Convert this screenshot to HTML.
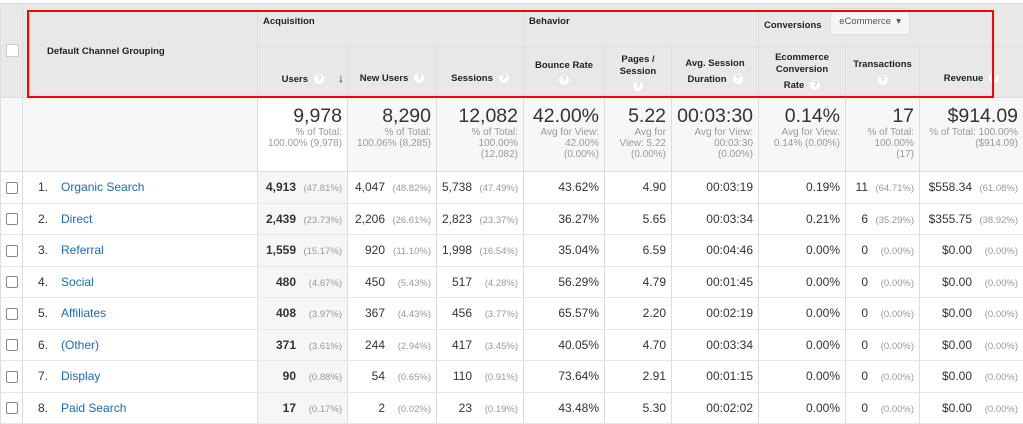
<!DOCTYPE html>
<html><head><meta charset="utf-8"><style>
body{margin:0;width:1023px;height:407px;overflow:hidden;background:#fff;font-family:"Liberation Sans",Arial,sans-serif;color:#222}
table{position:absolute;left:0;top:3px;border-collapse:collapse;table-layout:fixed;width:1023px}
td,th{border:1px solid #ddd;padding:0;overflow:hidden;white-space:nowrap}
th{background:#e8e8e8;font-size:9.5px;font-weight:bold;color:#222}
th>div,td>div{overflow:hidden;box-sizing:border-box}
.g th>div{height:42px;text-align:left;padding:12px 5px 0}
.s th>div{height:50px;display:flex;flex-direction:column;justify-content:center;align-items:center;line-height:12px;text-align:center;padding:0 3px}
.s th>div.lo{padding-top:14px}
.q{display:inline-block;width:10px;height:10px;border-radius:50%;background:#fff;color:#bbb;font-size:8px;line-height:10px;text-align:center;font-weight:normal;vertical-align:middle;margin-left:6px}
.tot td{background:#f7f7f7;vertical-align:top}
.tot td>div{height:73px;text-align:right;font-size:10px;color:#999;line-height:11px;padding:7px 5px 0;white-space:normal}
.tot b{display:block;font-weight:normal;font-size:19.5px;color:#333;line-height:22px;margin-bottom:0}
.r td{font-size:12px;text-align:right;color:#333;border-top:1px solid #e8e8e8;border-bottom:1px solid #e8e8e8}
.r td>div{height:30.5px;line-height:30.5px;padding:0 5px}
.r td.u{background:#f6f6f6}
.p{display:inline-block;color:#999;font-size:9.5px;width:46px;text-align:right}
.r td.n>div{text-align:left;padding-left:15px}
.n a{color:#1a6bb5;text-decoration:none;margin-left:13px}
.cb{display:inline-block;width:10px;height:10px;border:1px solid #888;border-radius:2px;background:#fff;vertical-align:middle}
.red{position:absolute;left:27px;top:10px;width:963px;height:84px;border:2px solid #f00;}
.sel{display:inline-block;margin-left:6px;background:#f5f5f5;border:1px solid #ddd;border-radius:2px;font-weight:normal;color:#555;padding:7px 8px;font-size:9.5px;margin-top:-8px;vertical-align:middle}
</style></head><body>
<table>
<colgroup><col style="width:22px"><col style="width:235px"><col style="width:90px"><col style="width:89px"><col style="width:87px"><col style="width:81px"><col style="width:67px"><col style="width:87px"><col style="width:87px"><col style="width:74px"><col style="width:104px"></colgroup>
<tr class="g"><th rowspan="2"><div style="height:93px;padding:40px 0 0 5px"><span class="cb" style="border-color:#ccc;border-radius:0;width:11px;height:11px"></span></div></th><th rowspan="2"><div style="height:93px;padding:42px 0 0 24px;text-align:left">Default Channel Grouping</div></th><th colspan="3"><div>Acquisition</div></th><th colspan="3"><div>Behavior</div></th><th colspan="3"><div>Conversions <span class="sel">eCommerce &nbsp;&#9662;</span></div></th></tr>
<tr class="s"><th><div class="lo" style="align-items:flex-end"><span>Users<span class="q">?</span><span style="margin-left:14px;font-size:12px">&#8595;</span></span></div></th><th><div class="lo"><span>New Users<span class="q">?</span></span></div></th><th><div class="lo"><span>Sessions<span class="q">?</span></span></div></th><th><div><span>Bounce Rate</span><span class="q" style="margin:3px 0 0">?</span></div></th><th><div><span>Pages /</span><span>Session</span><span class="q" style="margin:3px 0 0">?</span></div></th><th><div><span>Avg. Session</span><span style="margin-top:4px">Duration<span class="q">?</span></span></div></th><th><div><span>Ecommerce</span><span>Conversion</span><span style="margin-top:4px">Rate<span class="q">?</span></span></div></th><th><div><span>Transactions</span><span class="q" style="margin:4px 0 0">?</span></div></th><th><div class="lo"><span>Revenue<span class="q">?</span></span></div></th></tr>
<tr class="tot"><td><div></div></td><td><div></div></td><td style="background:#fff"><div><b>9,978</b>% of Total:<br>100.00% (9,978)</div></td><td><div><b>8,290</b>% of Total:<br>100.06% (8,285)</div></td><td><div><b>12,082</b>% of Total:<br>100.00%<br>(12,082)</div></td><td><div><b>42.00%</b>Avg for View:<br>42.00%<br>(0.00%)</div></td><td><div><b>5.22</b>Avg for<br>View: 5.22<br>(0.00%)</div></td><td><div><b>00:03:30</b>Avg for View:<br>00:03:30<br>(0.00%)</div></td><td><div><b>0.14%</b>Avg for View:<br>0.14% (0.00%)</div></td><td><div><b>17</b>% of Total:<br>100.00%<br>(17)</div></td><td><div><b>$914.09</b>% of Total: 100.00%<br>($914.09)</div></td></tr>
<tr class="r"><td><div><span class="cb"></span></div></td><td class="n"><div>1.<a>Organic Search</a></div></td><td class="u"><div><b>4,913</b><span class="p">(47.81%)</span></div></td><td><div>4,047<span class="p">(48.82%)</span></div></td><td><div>5,738<span class="p">(47.49%)</span></div></td><td><div>43.62%</div></td><td><div>4.90</div></td><td><div>00:03:19</div></td><td><div>0.19%</div></td><td><div>11<span class="p">(64.71%)</span></div></td><td><div>$558.34<span class="p">(61.08%)</span></div></td></tr>
<tr class="r"><td><div><span class="cb"></span></div></td><td class="n"><div>2.<a>Direct</a></div></td><td class="u"><div><b>2,439</b><span class="p">(23.73%)</span></div></td><td><div>2,206<span class="p">(26.61%)</span></div></td><td><div>2,823<span class="p">(23.37%)</span></div></td><td><div>36.27%</div></td><td><div>5.65</div></td><td><div>00:03:34</div></td><td><div>0.21%</div></td><td><div>6<span class="p">(35.29%)</span></div></td><td><div>$355.75<span class="p">(38.92%)</span></div></td></tr>
<tr class="r"><td><div><span class="cb"></span></div></td><td class="n"><div>3.<a>Referral</a></div></td><td class="u"><div><b>1,559</b><span class="p">(15.17%)</span></div></td><td><div>920<span class="p">(11.10%)</span></div></td><td><div>1,998<span class="p">(16.54%)</span></div></td><td><div>35.04%</div></td><td><div>6.59</div></td><td><div>00:04:46</div></td><td><div>0.00%</div></td><td><div>0<span class="p">(0.00%)</span></div></td><td><div>$0.00<span class="p">(0.00%)</span></div></td></tr>
<tr class="r"><td><div><span class="cb"></span></div></td><td class="n"><div>4.<a>Social</a></div></td><td class="u"><div><b>480</b><span class="p">(4.67%)</span></div></td><td><div>450<span class="p">(5.43%)</span></div></td><td><div>517<span class="p">(4.28%)</span></div></td><td><div>56.29%</div></td><td><div>4.79</div></td><td><div>00:01:45</div></td><td><div>0.00%</div></td><td><div>0<span class="p">(0.00%)</span></div></td><td><div>$0.00<span class="p">(0.00%)</span></div></td></tr>
<tr class="r"><td><div><span class="cb"></span></div></td><td class="n"><div>5.<a>Affiliates</a></div></td><td class="u"><div><b>408</b><span class="p">(3.97%)</span></div></td><td><div>367<span class="p">(4.43%)</span></div></td><td><div>456<span class="p">(3.77%)</span></div></td><td><div>65.57%</div></td><td><div>2.20</div></td><td><div>00:02:19</div></td><td><div>0.00%</div></td><td><div>0<span class="p">(0.00%)</span></div></td><td><div>$0.00<span class="p">(0.00%)</span></div></td></tr>
<tr class="r"><td><div><span class="cb"></span></div></td><td class="n"><div>6.<a>(Other)</a></div></td><td class="u"><div><b>371</b><span class="p">(3.61%)</span></div></td><td><div>244<span class="p">(2.94%)</span></div></td><td><div>417<span class="p">(3.45%)</span></div></td><td><div>40.05%</div></td><td><div>4.70</div></td><td><div>00:03:34</div></td><td><div>0.00%</div></td><td><div>0<span class="p">(0.00%)</span></div></td><td><div>$0.00<span class="p">(0.00%)</span></div></td></tr>
<tr class="r"><td><div><span class="cb"></span></div></td><td class="n"><div>7.<a>Display</a></div></td><td class="u"><div><b>90</b><span class="p">(0.88%)</span></div></td><td><div>54<span class="p">(0.65%)</span></div></td><td><div>110<span class="p">(0.91%)</span></div></td><td><div>73.64%</div></td><td><div>2.91</div></td><td><div>00:01:15</div></td><td><div>0.00%</div></td><td><div>0<span class="p">(0.00%)</span></div></td><td><div>$0.00<span class="p">(0.00%)</span></div></td></tr>
<tr class="r"><td><div><span class="cb"></span></div></td><td class="n"><div>8.<a>Paid Search</a></div></td><td class="u"><div><b>17</b><span class="p">(0.17%)</span></div></td><td><div>2<span class="p">(0.02%)</span></div></td><td><div>23<span class="p">(0.19%)</span></div></td><td><div>43.48%</div></td><td><div>5.30</div></td><td><div>00:02:02</div></td><td><div>0.00%</div></td><td><div>0<span class="p">(0.00%)</span></div></td><td><div>$0.00<span class="p">(0.00%)</span></div></td></tr>
</table>
<div class="red"></div>
</body></html>
